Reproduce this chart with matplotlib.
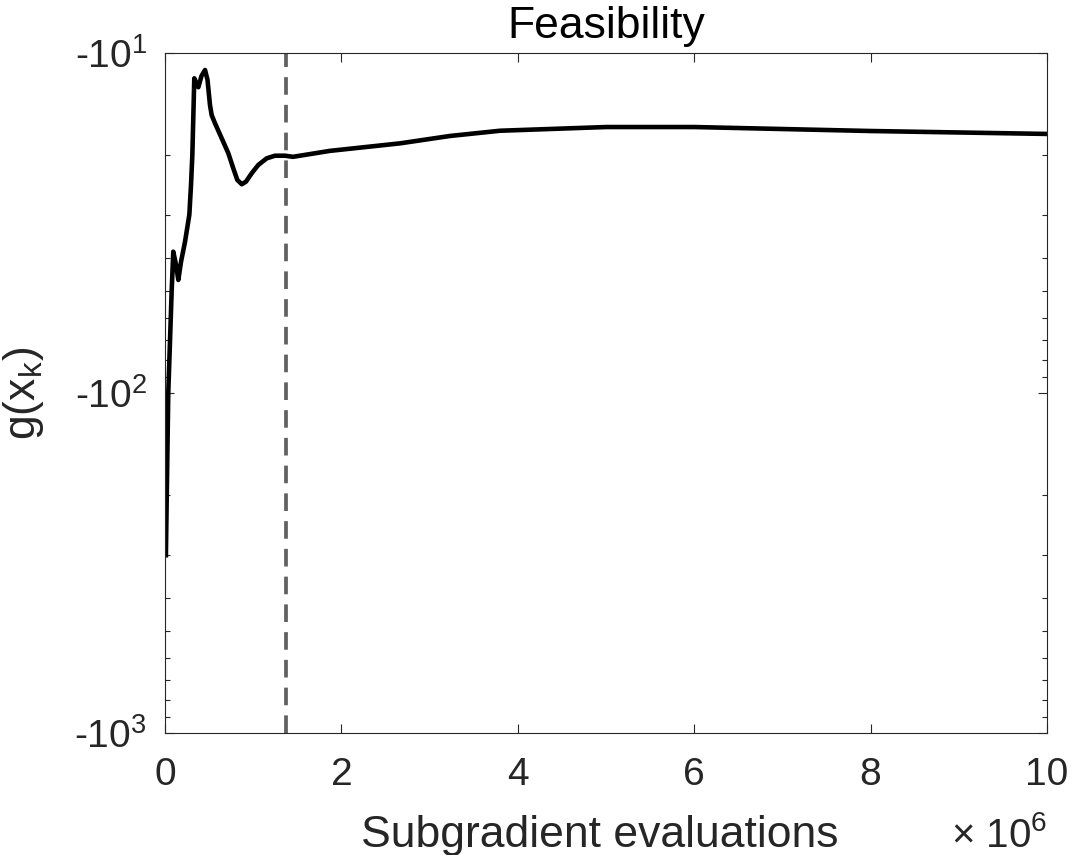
import numpy as np
import matplotlib
matplotlib.use("Agg")
import matplotlib.pyplot as plt
from matplotlib.ticker import LogLocator, FuncFormatter, NullFormatter

plt.rcParams['font.family'] = ['Liberation Sans', 'DejaVu Sans']
plt.rcParams['mathtext.fontset'] = 'custom'
plt.rcParams['mathtext.rm'] = 'Liberation Sans'
plt.rcParams['mathtext.it'] = 'Liberation Sans:italic'
plt.rcParams['mathtext.bf'] = 'Liberation Sans:bold'

# subgradient evaluations (in units of 1e6) and |g(x_k)|
evals = [0.010, 0.037, 0.076, 0.094, 0.125, 0.151, 0.181, 0.227, 0.276, 0.295,
         0.310, 0.323, 0.332, 0.378, 0.414, 0.454, 0.482, 0.510, 0.529, 0.567,
         0.643, 0.718, 0.774, 0.820, 0.870, 0.918, 0.983, 1.058, 1.153, 1.247,
         1.361, 1.451, 1.871, 2.664, 3.231, 3.798, 5.0, 6.0, 8.0, 10.0]
g_abs = [300, 100, 49.8, 38.4, 42.0, 46.5, 41.2, 35.9, 29.9, 24.4,
         19.95, 14.7, 11.87, 12.61, 11.68, 11.22, 12.0, 14.22, 15.22, 16.10,
         17.82, 19.72, 21.83, 23.63, 24.32, 23.9, 22.58, 21.34, 20.41, 20.05,
         20.05, 20.2, 19.4, 18.44, 17.54, 16.93, 16.51, 16.51, 16.96, 17.3]
switch_at = 1.372
x_ticks = [0, 2, 4, 6, 8, 10]

dark = (0.15, 0.15, 0.15)

fig = plt.figure(figsize=(10.72, 8.55), dpi=100)
ax = fig.add_axes([165 / 1072, 1 - 733 / 855, 882 / 1072, 680 / 855])

ax.plot(evals, g_abs, color='black', lw=3.3, solid_joinstyle='round')
ax.axvline(switch_at, color=(0.38, 0.38, 0.38), lw=2.7, dashes=(4.7, 2.7))

ax.set_yscale('log')
ax.set_ylim(1000, 10)
ax.set_xlim(0, 10)
ax.set_xticks(x_ticks)
ax.xaxis.set_minor_locator(plt.NullLocator())
ax.yaxis.set_major_locator(LogLocator(base=10))
ax.yaxis.set_minor_locator(LogLocator(base=10, subs=np.arange(2, 10)))
ax.yaxis.set_minor_formatter(NullFormatter())
ax.yaxis.set_major_formatter(FuncFormatter(
    lambda v, _: '-$10^{%d}$' % int(round(np.log10(v)))))

ax.tick_params(which='both', direction='in', top=True, right=True,
               colors=dark, labelsize=28, width=0.8)
ax.tick_params(which='major', length=6.5)
ax.tick_params(which='minor', length=3.6)
ax.tick_params(axis='x', pad=17)
ax.tick_params(axis='y', pad=13)
for s in ax.spines.values():
    s.set_color(dark)
    s.set_linewidth(0.8)

ax.set_title('Feasibility', fontsize=32, pad=11)
ax.set_xlabel('Subgradient evaluations', fontsize=32, color=dark)
ax.xaxis.label.set_va('baseline')
ax.xaxis.set_label_coords((599.5 - 165) / 882, (8 - 122) / 680)
ax.set_ylabel(r'g(x$_{\mathregular{k}}$)', fontsize=32, color=dark)
ax.yaxis.set_label_coords((46 - 165) / 882, 0.5)

fig.text(1047 / 1072, 8 / 855, '× 10$^{6}$', fontsize=29, color=dark,
         ha='right', va='baseline')

fig.savefig('out.png', dpi=100)
